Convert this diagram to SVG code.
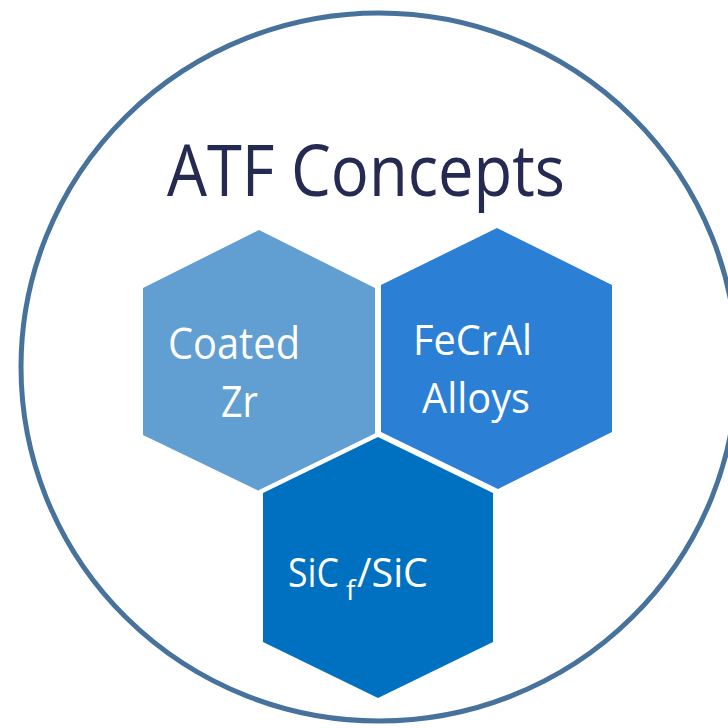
<svg xmlns="http://www.w3.org/2000/svg" width="728" height="728" viewBox="0 0 728 728">
  <style>
    .hex { stroke: #ffffff; stroke-width: 9; paint-order: stroke; stroke-linejoin: miter; }
    .label { font-family: "Open Sans", "Liberation Sans", sans-serif; fill: #ffffff; }
    .title { font-family: "Open Sans", "Liberation Sans", sans-serif; fill: #252a52; font-size: 71px; }
  </style>
  <rect width="728" height="728" fill="#ffffff"/>

  <!-- outer ring -->
  <ellipse cx="379" cy="367" rx="358" ry="354" fill="none" stroke="#46729c" stroke-width="5"/>

  <text class="title" x="167" y="196" textLength="398" lengthAdjust="spacingAndGlyphs">ATF Concepts</text>

  <g id="coated-zr">
    <polygon class="hex" fill="#619ed1" points="259,230 375,288 375,435 259,491 143,435 143,288"/>
    <text class="label" font-size="43" x="168" y="359" textLength="132" lengthAdjust="spacingAndGlyphs">Coated</text>
    <text class="label" font-size="43" x="221" y="417" textLength="37" lengthAdjust="spacingAndGlyphs">Zr</text>
  </g>

  <g id="fecral-alloys">
    <polygon class="hex" fill="#2b7fd5" points="497,228 612,285 612,432 498,489 381,432 381,285"/>
    <text class="label" font-size="42" x="413" y="355" textLength="119" lengthAdjust="spacingAndGlyphs">FeCrAl</text>
    <text class="label" font-size="42" x="422" y="413" textLength="108" lengthAdjust="spacingAndGlyphs">Alloys</text>
  </g>

  <g id="sic-sic">
    <polygon class="hex" fill="#0070c0" points="378,437 493,493 493,642 378,698 263,642 263,493"/>
    <text class="label" font-size="41" y="587"><tspan x="288" textLength="51" lengthAdjust="spacingAndGlyphs">SiC</tspan><tspan x="346" y="600" font-size="28">f</tspan><tspan x="357" y="587" textLength="71" lengthAdjust="spacingAndGlyphs">/SiC</tspan></text>
  </g>

  <g id="connectors"/>
</svg>
